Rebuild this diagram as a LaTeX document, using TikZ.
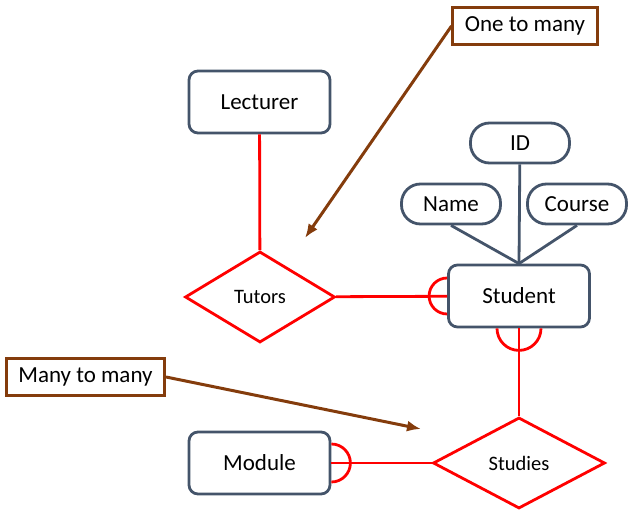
\documentclass[tikz,border=0pt]{standalone}
\usepackage{fontspec}
\setmainfont{Carlito}
\usetikzlibrary{shapes.geometric, arrows.meta}
\definecolor{slate}{RGB}{68,84,106}
\definecolor{rust}{RGB}{132,60,12}
\begin{document}
\begin{tikzpicture}[x=1pt, y=1pt,
  entity/.style={draw=slate, line width=2.8pt, rectangle, rounded corners=9pt,
    minimum width=141pt, minimum height=62pt, font=\fontsize{23}{27}\selectfont},
  attrib/.style={draw=slate, line width=2.8pt, rectangle, rounded corners=19pt,
    minimum width=99pt, minimum height=40pt, font=\fontsize{23}{27}\selectfont},
  relation/.style={draw=red, line width=2.8pt, diamond, inner sep=0pt,
    minimum width=150pt, minimum height=91pt, font=\fontsize{20.5}{24}\selectfont},
  callout/.style={draw=rust, line width=2.8pt, rectangle, fill=white,
    minimum height=37pt, inner xsep=12pt, font=\fontsize{23}{27}\selectfont},
  rel/.style={red, line width=2.8pt},
  attr/.style={slate, line width=2.8pt},
  note/.style={rust, line width=3pt, -{Latex[length=14pt,width=11pt]}}]
\useasboundingbox (0,0) rectangle (633,-513);

\node[entity] (lecturer) at (259.5,-102) {Lecturer};
\node[entity] (student) at (519,-296) {Student};
\node[entity] (module) at (259.5,-463) {Module};
\node[relation] (tutors) at (260,-297) {Tutors};
\node[relation, minimum width=172pt] (studies) at (519,-463) {Studies};
\node[attrib] (id) at (520,-143) {ID};
\node[attrib] (name) at (451,-204) {Name};
\node[attrib] (course) at (577,-204) {Course};
\node[callout] (onemany) at (525,-26) {One to many};
\node[callout] (manymany) at (85.5,-377) {Many to many};

\draw[attr] (id) -- (student.north);
\draw[attr] (name.south) -- (student.north);
\draw[attr] (course.south) -- (student.north);

\draw[rel] (lecturer) -- (tutors);
\draw[rel] (tutors) -- (student);
\draw[rel] (student) -- (studies);
\draw[rel] (module) -- (studies);

% optional-many ends
\draw[rel] (student.west) ++(0,18) arc[start angle=90, end angle=270, radius=18];
\draw[rel] (student.south) ++(22,0) arc[start angle=0, end angle=-180, radius=22];
\draw[rel] (module.east) ++(0,19) arc[start angle=90, end angle=-90, radius=19];

\coordinate (tutorsptr) at (305,-238);
\coordinate (studiesptr) at (421,-429);
\draw[note] (onemany.west) -- (tutorsptr);
\draw[note] (manymany.east) -- (studiesptr);
\end{tikzpicture}
\end{document}
